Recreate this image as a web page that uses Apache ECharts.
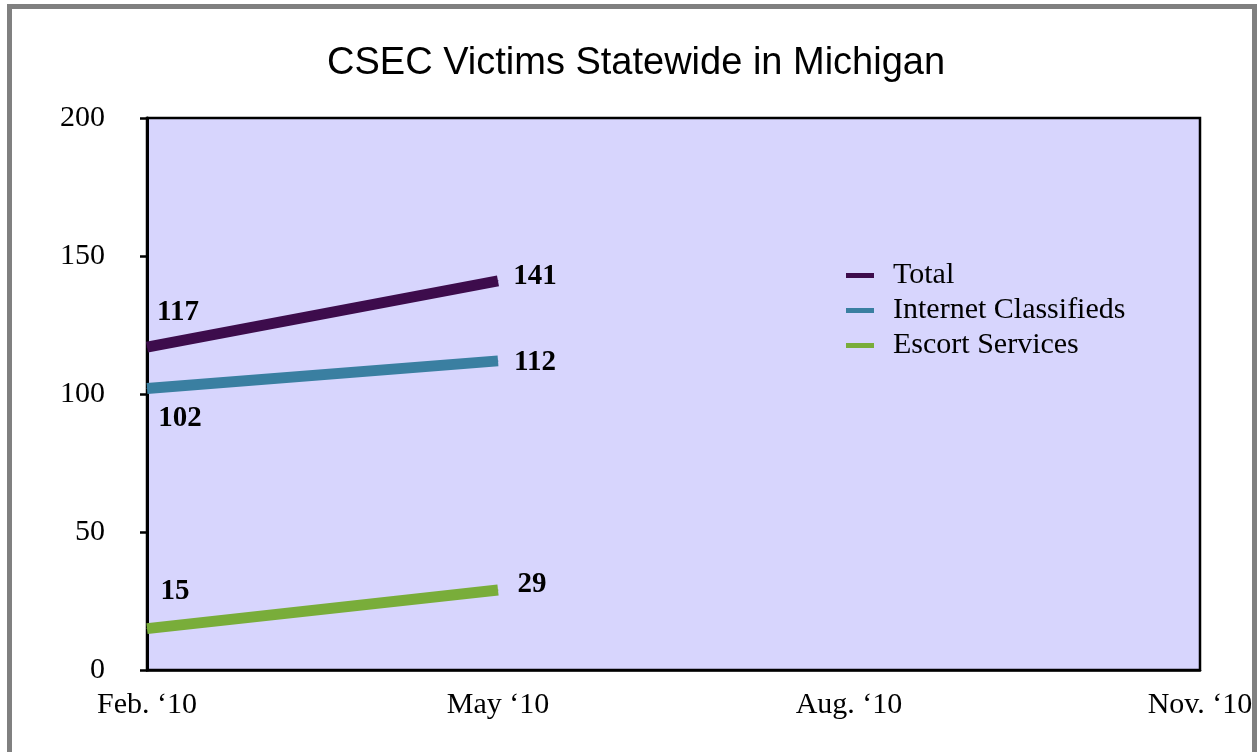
<!DOCTYPE html>
<html>
<head>
<meta charset="utf-8">
<title>CSEC Victims Statewide in Michigan</title>
<script src="https://cdn.jsdelivr.net/npm/echarts@6/dist/echarts.min.js"></script>
<style>
  html, body { margin: 0; padding: 0; background: #fff; overflow: hidden; }
  #chart { position: absolute; left: 0; top: 0; width: 1260px; height: 752px; }
  .frame {
    position: absolute; left: 7px; top: 4px; width: 1240px; height: 800px;
    border: 5px solid #808080; pointer-events: none;
  }
</style>
</head>
<body>
<div id="chart"></div>
<div class="frame"></div>
<script>
const quarters = ['Feb. \u201810', 'May \u201810', 'Aug. \u201810', 'Nov. \u201810']
const seriesNames = ['Total', 'Internet Classifieds', 'Escort Services']
const totalValues = [117, 141]
const internetValues = [102, 112]
const escortValues = [15, 29]

const colors = ['#3d0c4c', '#3a7fa1', '#79ad3a']
const serifFont = '"Liberation Serif", "DejaVu Serif", serif'

// label offsets per series: [Feb, May]
const labelOffsets = [
  [[31, -35], [37, -4]],
  [[33, 30], [37, 2]],
  [[28, -37], [34, -5]],
]

function buildSeries(name, values, color, offsets) {
  return {
    name,
    type: 'line',
    symbol: 'circle',
    symbolSize: 1,
    showSymbol: true,
    itemStyle: { color },
    lineStyle: { color, width: 11, cap: 'butt' },
    label: {
      show: true,
      position: 'inside',
      align: 'center',
      verticalAlign: 'middle',
      fontFamily: serifFont,
      fontWeight: 'bold',
      fontSize: 29,
      color: '#000',
    },
    emphasis: { disabled: true },
    data: values.map((v, i) => ({ value: v, label: { offset: offsets[i] } })),
  }
}

const chart = echarts.init(document.getElementById('chart'))
chart.setOption({
  animation: false,
  title: {
    text: 'CSEC Victims Statewide in Michigan',
    left: 322,
    top: 40,
    textStyle: { fontFamily: '"Liberation Sans", Arial, sans-serif', fontWeight: 'normal', fontSize: 38, color: '#000' },
  },
  legend: {
    orient: 'vertical',
    left: 841,
    top: 255,
    icon: 'rect',
    itemWidth: 28,
    itemHeight: 5,
    itemGap: 4,
    textStyle: { fontFamily: serifFont, fontSize: 30, lineHeight: 31, color: '#000', padding: [0, 0, 0, 14] },
    data: seriesNames,
  },
  grid: {
    left: 147, right: 60, top: 118, bottom: 82,
    show: true,
    backgroundColor: '#d7d5fd',
    borderColor: '#000',
    borderWidth: 2.5,
  },
  xAxis: {
    type: 'category',
    data: quarters,
    boundaryGap: false,
    axisLine: { show: true, lineStyle: { color: '#000', width: 2.5 } },
    axisTick: { show: false },
    axisLabel: { fontFamily: serifFont, fontSize: 30, color: '#000', margin: 20, interval: 0 },
    splitLine: { show: false },
  },
  yAxis: {
    type: 'value',
    min: 0,
    max: 200,
    interval: 50,
    axisLine: { show: true, lineStyle: { color: '#000', width: 3 } },
    axisTick: { show: true, inside: false, length: 7, lineStyle: { color: '#000', width: 2.5 } },
    axisLabel: { fontFamily: serifFont, fontSize: 30, color: '#000', margin: 42 },
    splitLine: { show: false },
  },
  series: [
    buildSeries(seriesNames[0], totalValues, colors[0], labelOffsets[0]),
    buildSeries(seriesNames[1], internetValues, colors[1], labelOffsets[1]),
    buildSeries(seriesNames[2], escortValues, colors[2], labelOffsets[2]),
  ],
})
</script>
</body>
</html>
